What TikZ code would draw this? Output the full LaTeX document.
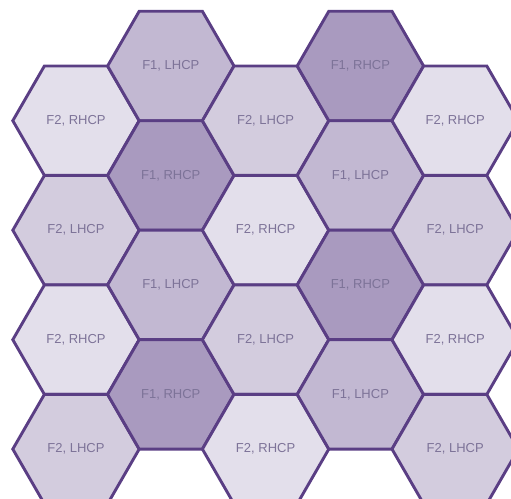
\documentclass[tikz,border=0pt]{standalone}
\usepackage{fontspec}
\setmainfont{Liberation Sans}
\usetikzlibrary{shapes.geometric}

\definecolor{cellline}{HTML}{5A3E84}
\definecolor{celltext}{HTML}{7D7398}
\definecolor{ftwor}{HTML}{E3DFEB}
\definecolor{ftwol}{HTML}{D3CCDE}
\definecolor{fonel}{HTML}{C2B8D2}
\definecolor{foner}{HTML}{A99ABF}

\tikzset{
  hexcell/.style={regular polygon,regular polygon sides=6,
    minimum size=126.4pt,inner sep=0pt,draw=cellline,line width=2.9pt,
    text=celltext,font=\fontsize{13}{15}\selectfont},
  f2r/.style={hexcell,fill=ftwor},
  f2l/.style={hexcell,fill=ftwol},
  f1l/.style={hexcell,fill=fonel},
  f1r/.style={hexcell,fill=foner}
}

\begin{document}
\begin{tikzpicture}[x=1pt,y=-1pt]
\clip (0,0) rectangle (511,498);

% first column
\node[f2r] (a1) at (76,120.7) {F2, RHCP};
\node[f2l] (a2) at (76,230.2) {F2, LHCP};
\node[f2r] (a3) at (76,339.7) {F2, RHCP};
\node[f2l] (a4) at (76,449.1) {F2, LHCP};

% second column
\node[f1l] (b1) at (170.8,66) {F1, LHCP};
\node[f1r] (b2) at (170.8,175.5) {F1, RHCP};
\node[f1l] (b3) at (170.8,284.9) {F1, LHCP};
\node[f1r] (b4) at (170.8,394.4) {F1, RHCP};

% third column
\node[f2l] (c1) at (265.6,120.7) {F2, LHCP};
\node[f2r] (c2) at (265.6,230.2) {F2, RHCP};
\node[f2l] (c3) at (265.6,339.7) {F2, LHCP};
\node[f2r] (c4) at (265.6,449.1) {F2, RHCP};

% fourth column
\node[f1r] (d1) at (360.4,66) {F1, RHCP};
\node[f1l] (d2) at (360.4,175.5) {F1, LHCP};
\node[f1r] (d3) at (360.4,284.9) {F1, RHCP};
\node[f1l] (d4) at (360.4,394.4) {F1, LHCP};

% fifth column
\node[f2r] (e1) at (455.2,120.7) {F2, RHCP};
\node[f2l] (e2) at (455.2,230.2) {F2, LHCP};
\node[f2r] (e3) at (455.2,339.7) {F2, RHCP};
\node[f2l] (e4) at (455.2,449.1) {F2, LHCP};
\end{tikzpicture}
\end{document}
